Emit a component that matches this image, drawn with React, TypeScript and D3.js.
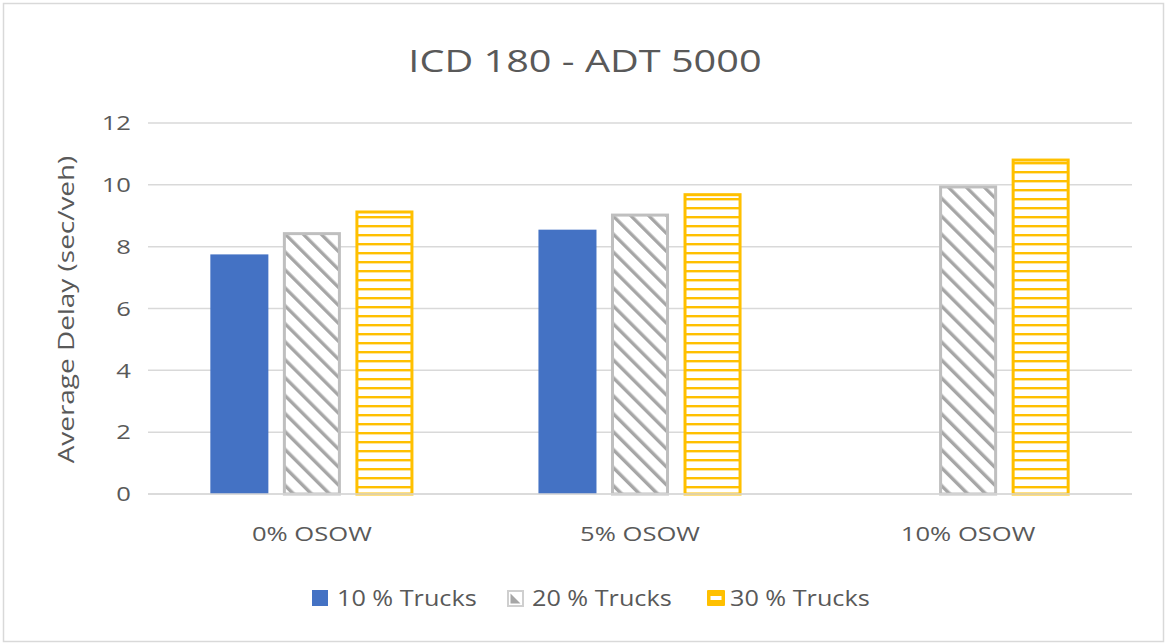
import React from 'react';
import * as d3 from 'd3';

const categories = ['0% OSOW', '5% OSOW', '10% OSOW'];
const seriesNames = ['10 % Trucks', '20 % Trucks', '30 % Trucks'];
const trucks10 = [7.75, 8.55, null];
const trucks20 = [8.47, 9.07, 9.98];
const trucks30 = [9.17, 9.73, 10.85];
const yTicks = [0, 2, 4, 6, 8, 10, 12];

const W = 1167;
const H = 644;
const FONT = '"Open Sans", sans-serif';
const TXT = '#595959';
// the original picture is a bit stretched sideways, so the text is widened to match
const SX = 1.28;

const App = () => {
  const margin = { top: 123, right: 35, bottom: 150, left: 148 };
  const x0 = d3.scaleBand<string>()
    .domain(categories)
    .range([margin.left, W - margin.right])
    .paddingInner(0.381)
    .paddingOuter(0.19);
  const x1 = d3.scaleBand<string>()
    .domain(seriesNames)
    .range([0, x0.bandwidth()])
    .paddingInner(0.2);
  const y = d3.scaleLinear().domain([0, 12]).range([H - margin.bottom, margin.top]);

  const series = [trucks10, trucks20, trucks30];
  const fills = ['#4472C4', 'url(#diag)', 'url(#horiz)'];
  const strokes = ['none', '#BFBFBF', '#FFC000'];

  // legend positions
  const legendX = [312, 507, 707];

  return (
    <svg width={W} height={H} style={{ position: 'fixed', left: 0, top: 0, background: '#fff' }}>
      <defs>
        <pattern id="diag" patternUnits="userSpaceOnUse" width={12.7} height={12.7} patternTransform="rotate(-45)">
          <rect width={12.7} height={12.7} fill="#fff" />
          <rect x={0} width={3.4} height={12.7} fill="#A6A6A6" />
        </pattern>
        <pattern id="horiz" patternUnits="userSpaceOnUse" width={10} height={9}>
          <rect width={10} height={9} fill="#fff" />
          <rect y={0} width={10} height={2.4} fill="#FFC000" />
        </pattern>
      </defs>
      <rect x={3.5} y={3.5} width={W - 7} height={H - 6} fill="#fff" stroke="#D9D9D9" strokeWidth={1.5} />

      <text transform={`translate(585,72) scale(${SX},1)`} textAnchor="middle" fontFamily={FONT} fontSize={31} fill={TXT}>
        ICD 180 - ADT 5000
      </text>

      {yTicks.map(t => (
        <g key={t}>
          <line x1={margin.left} x2={W - margin.right} y1={y(t)} y2={y(t)} stroke="#D9D9D9" strokeWidth={1.5} />
          <text transform={`translate(131,${y(t)}) scale(${SX},1)`} dy="0.36em" textAnchor="end" fontFamily={FONT} fontSize={20} fill={TXT}>{t}</text>
        </g>
      ))}

      {categories.map((c, ci) => (
        <g key={c} transform={`translate(${x0(c)},0)`}>
          {series.map((s, si) => {
            const v = s[ci];
            if (v == null) return null;
            const sw = si === 0 ? 0 : 3;
            return (
              <rect key={si}
                x={(x1(seriesNames[si]) as number) + sw / 2}
                y={y(v) + sw / 2}
                width={x1.bandwidth() - sw}
                height={y(0) - y(v) - sw / 2}
                fill={fills[si]} stroke={strokes[si]} strokeWidth={sw} />
            );
          })}
          <text transform={`translate(${x0.bandwidth() / 2},534) scale(${SX},1)`} dy="0.36em" textAnchor="middle" fontFamily={FONT} fontSize={20} fill={TXT}>{c}</text>
        </g>
      ))}

      <line x1={margin.left} x2={W - margin.right} y1={y(0)} y2={y(0)} stroke="#D9D9D9" strokeWidth={1.5} />

      <text transform={`translate(66,${(y(0) + y(12)) / 2 + 1}) rotate(-90) scale(1.33,1)`} textAnchor="middle" dy="0.36em"
        fontFamily={FONT} fontSize={21} fill={TXT}>Average Delay (sec/veh)</text>

      {seriesNames.map((n, i) => (
        <g key={n} transform={`translate(${legendX[i]},598)`}>
          {i === 0 && <rect x={0} y={-8} width={16} height={16} fill="#4472C4" />}
          {i === 1 && (
            <g>
              <rect x={1} y={-7} width={15} height={15} fill="#fff" stroke="#CFCFCF" strokeWidth={2} />
              <path d="M3.5,-4.5 L13.5,5.5 L3.5,5.5 Z" fill="#A6A6A6" />
            </g>
          )}
          {i === 2 && (
            <g>
              <rect x={0} y={-8} width={18} height={16} rx={1} fill="#FFC000" />
              <rect x={3.5} y={-2} width={11} height={4} fill="#fff" />
            </g>
          )}
          <text transform={`translate(${i === 2 ? 23 : 25},0) scale(1.2,1)`} dy="0.36em" fontFamily={FONT} fontSize={21} fill={TXT}>{n}</text>
        </g>
      ))}
    </svg>
  );
};

export default App;
